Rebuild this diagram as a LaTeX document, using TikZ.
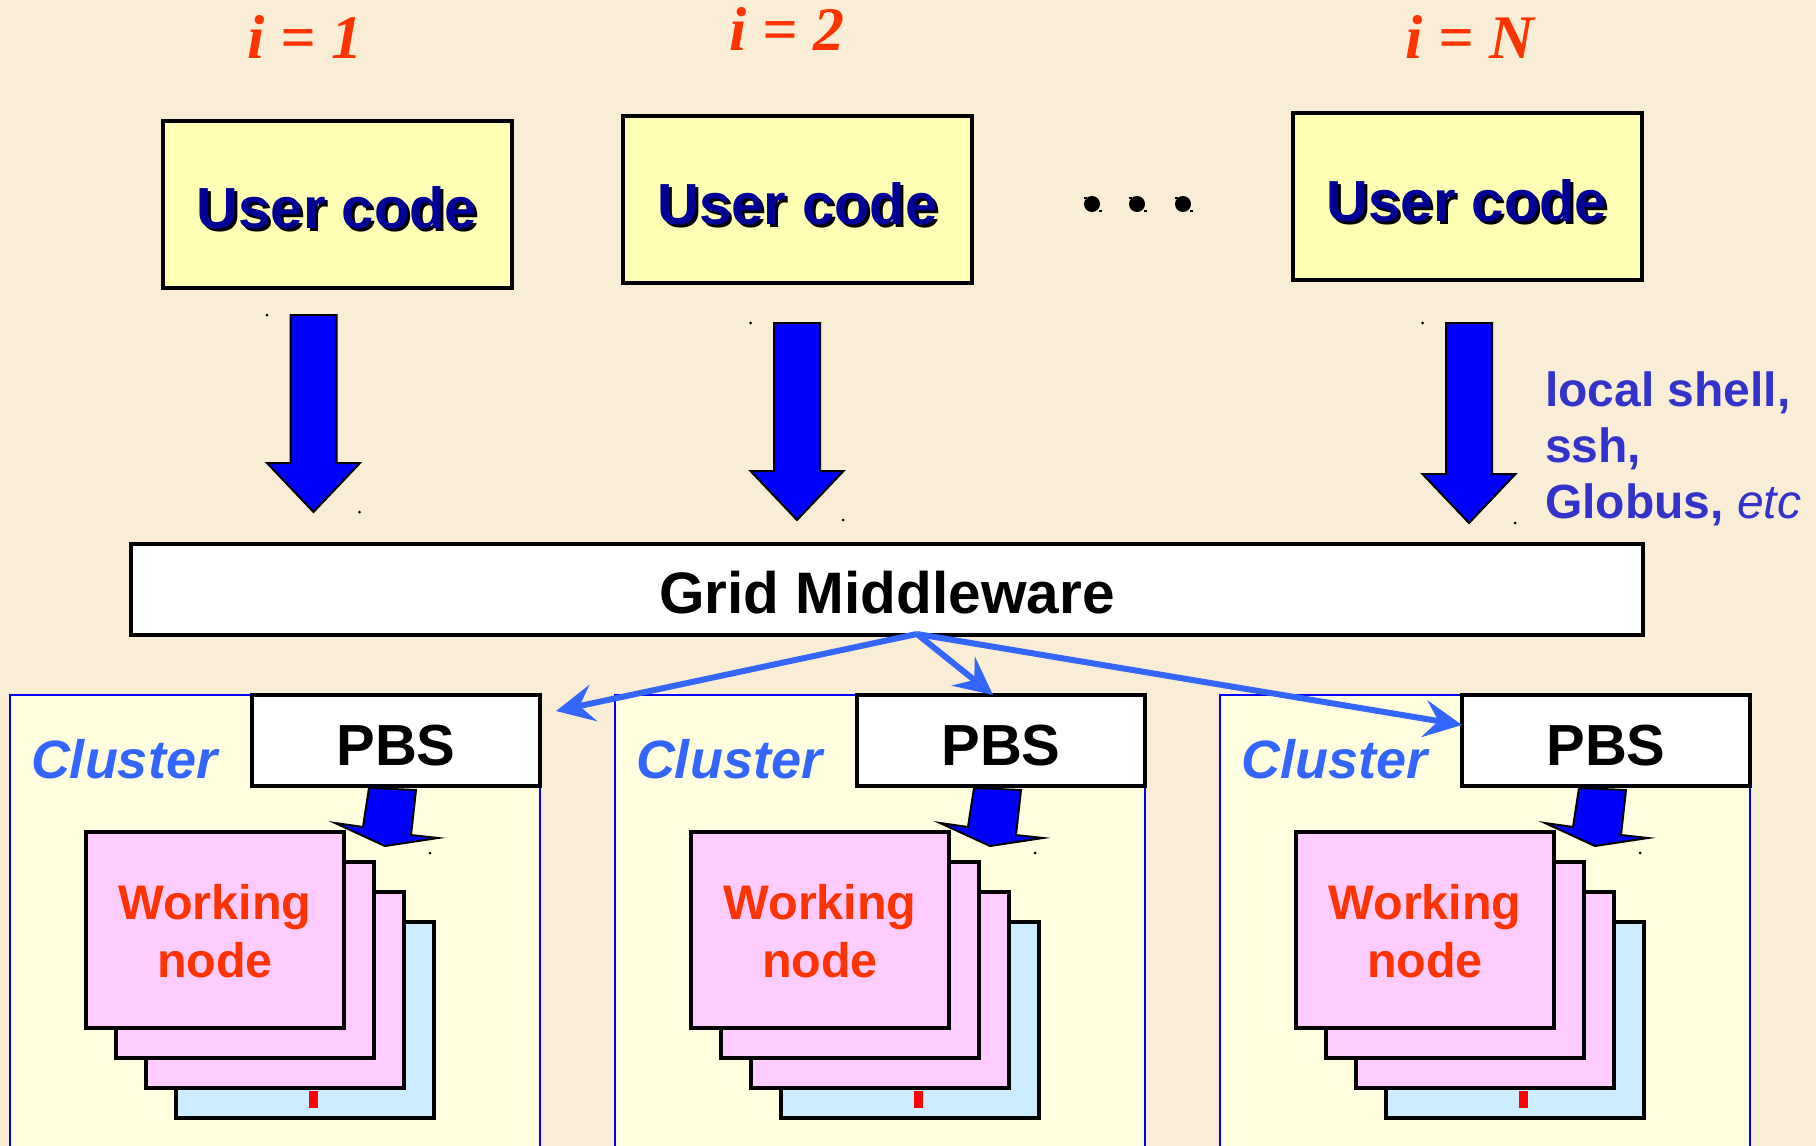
\documentclass[tikz,border=0pt]{standalone}
\usepackage{fontspec}
\setmainfont{Liberation Sans}
\newfontfamily\timesfam{Liberation Serif}
\usetikzlibrary{arrows.meta}

\definecolor{paper}{RGB}{250,237,213}
\definecolor{ucfill}{RGB}{255,255,180}
\definecolor{uctext}{RGB}{0,0,153}
\definecolor{idxred}{RGB}{255,51,0}
\definecolor{pushblue}{RGB}{0,0,255}
\definecolor{linkblue}{RGB}{51,102,255}
\definecolor{sidetext}{RGB}{51,51,204}
\definecolor{clusterfill}{RGB}{255,255,224}
\definecolor{wnpink}{RGB}{255,204,255}
\definecolor{wnblue}{RGB}{204,236,255}

\newcommand\setfs[1]{\fontsize{#1}{#1}\selectfont}

\tikzset{
  every node/.style={inner sep=0pt, outer sep=0pt},
  idxlabel/.style={anchor=base, text=idxred, font=\timesfam\bfseries\itshape\setfs{62}},
  usercode/.style={draw=black, line width=4pt, fill=ucfill, minimum width=349pt, minimum height=167pt},
  uclabel/.style={anchor=base, text=uctext, font=\bfseries\setfs{58}},
  ucshadow/.style={anchor=base, text=black, font=\bfseries\setfs{58}},
  pushshape/.style={fill=pushblue, draw=black, line width=2pt, line join=miter},
  speck/.style={fill=black},
  sidelabel/.style={anchor=base west, text=sidetext, font=\bfseries\setfs{48}},
  middleware/.style={draw=black, line width=4pt, fill=white, minimum width=1512pt, minimum height=91pt},
  mwlabel/.style={anchor=base, font=\bfseries\setfs{58.5}},
  clusterpanel/.style={draw=pushblue, line width=1.5pt, fill=clusterfill},
  clusterlabel/.style={anchor=base west, text=linkblue, font=\bfseries\itshape\setfs{54}},
  pbsbox/.style={draw=black, line width=4pt, fill=white, minimum width=288pt, minimum height=91pt},
  pbslabel/.style={anchor=base, font=\bfseries\setfs{58}},
  wnbox/.style={draw=black, line width=4pt, fill=wnpink, minimum width=258pt, minimum height=196pt},
  wnback/.style={wnbox, fill=wnblue},
  wnlabel/.style={anchor=base, text=idxred, font=\bfseries\setfs{48.5}},
  link/.style={draw=linkblue, line width=6pt,
    -{Stealth[length=38pt, width=37pt, inset=14pt]}},
}

\begin{document}
\begin{tikzpicture}[x=1pt, y=-1pt]
\useasboundingbox (0,0) rectangle (1816,1146);
\begin{scope}
\clip (0,0) rectangle (1816,1146);
\fill[paper] (0,0) rectangle (1816,1146);

% job index labels
\node[idxlabel] (idx1) at (305,58) {i = 1};
\node[idxlabel] (idx2) at (787,50) {i = 2};
\node[idxlabel] (idxN) at (1470,58) {i = N};

% user code boxes with shadowed labels
\foreach \k/\cx/\cy/\by in {1/337/204/228, 2/797.5/199.5/224, 3/1467/196.5/221} {
  \node[usercode] (uc\k) at (\cx,\cy) {};
  \node[ucshadow] (ucs\k) at (\cx+3,\by+3) {User code};
  \node[uclabel] (ucl\k) at (\cx,\by) {User code};
}

% submission arrows down to the middleware
\foreach \cx/\top/\tip in {313.5/315/512, 797/323/520, 1469/323/523} {
  \filldraw[pushshape] (\cx-23,\top) -- (\cx+23,\top) -- (\cx+23,\tip-49)
    -- (\cx+46.5,\tip-49) -- (\cx,\tip) -- (\cx-46.5,\tip-49) -- (\cx-23,\tip-49) -- cycle;
  \fill[speck] (\cx-46.5,\top) circle (1.5);
  \fill[speck] (\cx+46,\tip) circle (1.5);
}

% ellipsis between the jobs
\foreach \ex in {1092,1137,1183} {
  \fill[black] (\ex,204) circle (8);
  \fill[speck] (\ex-8,199) rectangle +(3,-2);
  \fill[speck] (\ex+7,210) rectangle +(3,2);
}

% access methods
\node[sidelabel] (side1) at (1545,406) {local shell,};
\node[sidelabel] (side2) at (1545,462) {ssh,};
\node[sidelabel] (side3) at (1545,518) {Globus, {\mdseries\itshape etc}};

% grid middleware bar
\node[middleware] (mw) at (887,589.5) {};
\node[mwlabel] (mwl) at (887,613) {Grid Middleware};

% clusters
\foreach \k/\dx in {1/0, 2/605, 3/1210} {
  \filldraw[clusterpanel] (10+\dx,695) rectangle (540+\dx,1170);
  \node[clusterlabel] (cl\k) at (31+\dx,778) {Cluster};
  \node[pbsbox] (pbs\k) at (396+\dx,740.5) {};
  \node[pbslabel] (pbsl\k) at (396+\dx,765) {PBS};
  % dispatch arrow from the batch system to the nodes
  \filldraw[pushshape] (369+\dx,788) -- (416+\dx,790) -- (411+\dx,835) -- (438+\dx,838)
    -- (385+\dx,846) -- (335+\dx,823) -- (363+\dx,827) -- cycle;
  \fill[speck] (430+\dx,853) circle (1.5);
  % stack of working nodes
  \node[wnback] (wn\k d) at (305+\dx,1020) {};
  \node[wnbox] (wn\k c) at (275+\dx,990) {};
  \node[wnbox] (wn\k b) at (245+\dx,960) {};
  \node[wnbox] (wn\k a) at (215+\dx,930) {};
  \fill[red] (309+\dx,1091) rectangle (318+\dx,1108);
  \node[wnlabel] (wnl\k a) at (215+\dx,919) {Working};
  \node[wnlabel] (wnl\k b) at (215+\dx,977) {node};
}

% middleware dispatch to the clusters
\coordinate (hub) at (917,634);
\coordinate (to1) at (556,711);
\coordinate (to2) at (993,695);
\coordinate (to3) at (1462,725);
\draw[link] (hub) -- (to1);
\draw[link] (hub) -- (to2);
\draw[link] (hub) -- (to3);
\end{scope}
\end{tikzpicture}
\end{document}
